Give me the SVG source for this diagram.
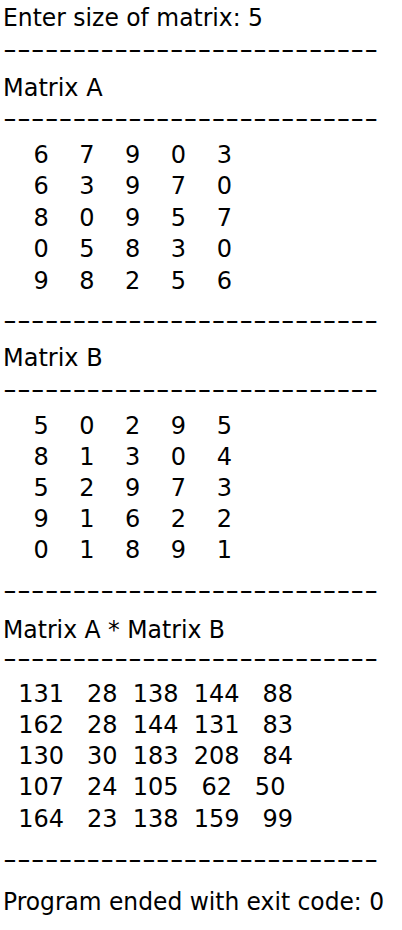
<svg xmlns="http://www.w3.org/2000/svg" width="402" height="930" viewBox="0 0 402 930">
<style>
text{font-family:"DejaVu Sans","Liberation Sans",sans-serif;font-size:24px;fill:#000;white-space:pre}
</style>
<rect width="402" height="930" fill="#fff"/>
<defs>
<text id="dash" x="0" y="0">---------------------------</text>
</defs>
<text x="3" y="25.5" textLength="260" lengthAdjust="spacingAndGlyphs">Enter size of matrix: 5</text>
<use href="#dash" transform="translate(3,57.5) scale(1.605,1)"/>
<text x="3" y="95.5">Matrix A</text>
<use href="#dash" transform="translate(3,126.5) scale(1.605,1)"/>
<g id="matrixA">
<text x="3" y="163" xml:space="preserve">    6    7    9    0    3</text>
<text x="3" y="194.4" xml:space="preserve">    6    3    9    7    0</text>
<text x="3" y="225.8" xml:space="preserve">    8    0    9    5    7</text>
<text x="3" y="257.2" xml:space="preserve">    0    5    8    3    0</text>
<text x="3" y="288.6" xml:space="preserve">    9    8    2    5    6</text>
</g>
<use href="#dash" transform="translate(3,328.5) scale(1.605,1)"/>
<text x="3" y="365.5">Matrix B</text>
<use href="#dash" transform="translate(3,397.5) scale(1.605,1)"/>
<g id="matrixB">
<text x="3" y="433.5" xml:space="preserve">    5    0    2    9    5</text>
<text x="3" y="464.6" xml:space="preserve">    8    1    3    0    4</text>
<text x="3" y="495.7" xml:space="preserve">    5    2    9    7    3</text>
<text x="3" y="526.8" xml:space="preserve">    9    1    6    2    2</text>
<text x="3" y="557.9" xml:space="preserve">    0    1    8    9    1</text>
</g>
<use href="#dash" transform="translate(3,598.5) scale(1.605,1)"/>
<text x="3" y="638" textLength="222" lengthAdjust="spacingAndGlyphs">Matrix A * Matrix B</text>
<use href="#dash" transform="translate(3,666.5) scale(1.605,1)"/>
<g id="product">
<text x="3" y="701.5" xml:space="preserve">  131   28  138  144   88</text>
<text x="3" y="732.8" xml:space="preserve">  162   28  144  131   83</text>
<text x="3" y="764.1" xml:space="preserve">  130   30  183  208   84</text>
<text x="3" y="795.4" xml:space="preserve">  107   24  105   62   50</text>
<text x="3" y="826.7" xml:space="preserve">  164   23  138  159   99</text>
</g>
<use href="#dash" transform="translate(3,867.5) scale(1.605,1)"/>
<text x="3" y="909.5" textLength="381" lengthAdjust="spacingAndGlyphs">Program ended with exit code: 0</text>
</svg>
